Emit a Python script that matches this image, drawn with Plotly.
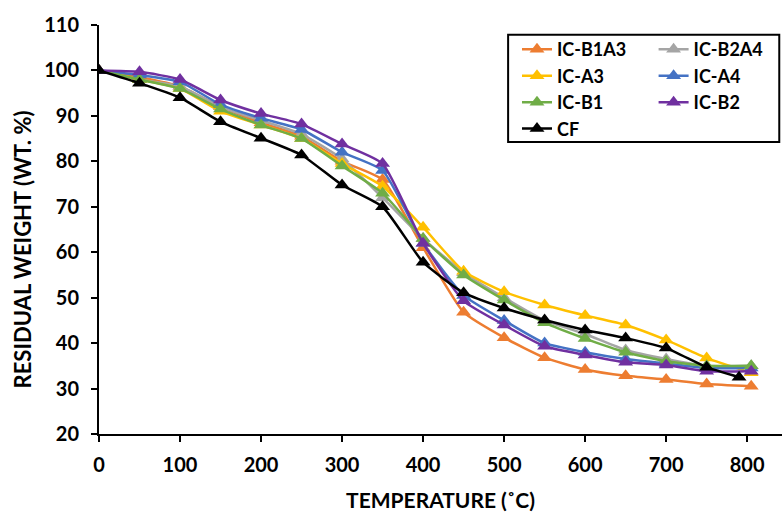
import plotly.graph_objects as go

# Temperature steps (°C) at which residual weight was recorded
temp_ic = [0, 50, 100, 150, 200, 250, 300, 350, 400, 450, 500, 550, 600, 650, 700, 750, 805]
temp_cf = [0, 50, 100, 150, 200, 250, 300, 350, 400, 450, 500, 550, 600, 650, 700, 750, 790]

# Residual weight (wt. %) per sample
ic_b1a3 = [100, 98.5, 96.5, 92, 88.5, 85.5, 80, 76, 61, 46.8, 41.2, 36.8, 34.2, 32.8, 32, 31, 30.5]
ic_b2a4 = [100, 98, 96.5, 92, 89, 86, 80.5, 72, 63, 55.5, 50, 45, 42, 38.5, 36.5, 35, 35]
ic_a3 = [100, 98, 96, 91, 88, 85, 79.5, 74.5, 65.5, 55.8, 51.3, 48.4, 46.1, 44, 40.7, 36.7, 33.5]
ic_a4 = [100, 99, 97.5, 92.5, 89.5, 87, 82, 78, 62, 50.5, 45, 40, 38, 36.5, 35.5, 34.5, 34.5]
ic_b1 = [100, 98, 96, 91.5, 88, 85, 79, 73, 63, 55, 49.5, 44.5, 41, 38, 36, 35, 35]
ic_b2 = [100, 99.7, 98, 93.5, 90.5, 88.2, 83.8, 79.5, 62, 49.3, 44, 39.3, 37.4, 35.8, 35.2, 33.8, 33.8]
cf = [100, 97.2, 94, 88.7, 85.1, 81.4, 74.8, 70, 57.8, 51.1, 47.7, 45.1, 42.9, 41.1, 38.9, 34.7, 32.5]

x_ticks = [0, 100, 200, 300, 400, 500, 600, 700, 800]
y_ticks = [20, 30, 40, 50, 60, 70, 80, 90, 100, 110]

series = [
    ("IC-B1A3", temp_ic, ic_b1a3, "#ED7D31", "legend"),
    ("IC-B2A4", temp_ic, ic_b2a4, "#A5A5A5", "legend2"),
    ("IC-A3", temp_ic, ic_a3, "#FFC000", "legend"),
    ("IC-A4", temp_ic, ic_a4, "#4472C4", "legend2"),
    ("IC-B1", temp_ic, ic_b1, "#70AD47", "legend"),
    ("IC-B2", temp_ic, ic_b2, "#7030A0", "legend2"),
    ("CF", temp_cf, cf, "#000000", "legend"),
]

FONT = "Lato"

fig = go.Figure()
for name, xs, ys, color, leg in series:
    fig.add_trace(go.Scatter(
        x=xs, y=ys, name=name, mode="lines+markers",
        line=dict(color=color, width=2.5, shape="spline", smoothing=0.5),
        marker=dict(symbol="triangle-up", size=13, color=color),
        legend=leg,
    ))

legend_style = dict(
    font=dict(family=FONT, size=18, color="#000000", weight="bold"),
    bgcolor="rgba(0,0,0,0)", borderwidth=0,
    xanchor="left", yanchor="top", orientation="v",
    itemwidth=30, tracegroupgap=0,
)

fig.update_layout(
    width=782, height=512,
    margin=dict(l=99, r=0, t=25, b=78),
    paper_bgcolor="white", plot_bgcolor="white",
    font=dict(family=FONT, color="#000000"),
    legend=dict(x=0.612, y=0.985, **legend_style),
    legend2=dict(x=0.812, y=0.985, **legend_style),
    xaxis=dict(
        range=[0, 843], tickvals=x_ticks, showgrid=False, zeroline=False,
        showline=True, linecolor="#000000", linewidth=2,
        ticks="outside", ticklen=6, tickwidth=2, tickcolor="#000000",
        tickfont=dict(family=FONT, size=20, weight="bold"),
        ticklabelstandoff=6,
        title=dict(text="TEMPERATURE (˚C)", standoff=19,
                   font=dict(family=FONT, size=21, weight="bold")),
    ),
    yaxis=dict(
        range=[20, 110], tickvals=y_ticks, showgrid=False, zeroline=False,
        showline=True, linecolor="#000000", linewidth=2,
        ticks="outside", ticklen=6, tickwidth=2, tickcolor="#000000",
        tickfont=dict(family=FONT, size=20, weight="bold"),
        ticklabelstandoff=8,
    ),
    annotations=[dict(
        text="RESIDUAL WEIGHT (WT. %)", textangle=-90, showarrow=False,
        xref="paper", yref="paper", x=-0.112, y=0.45,
        xanchor="center", yanchor="middle",
        font=dict(family=FONT, size=22, weight="bold", color="#000000"),
    )],
    shapes=[dict(
        type="rect", xref="paper", yref="paper",
        x0=0.599, x1=0.996, y0=0.714, y1=0.976,
        line=dict(color="#000000", width=2), fillcolor="rgba(0,0,0,0)",
    )],
)

fig.write_html("out.html")
